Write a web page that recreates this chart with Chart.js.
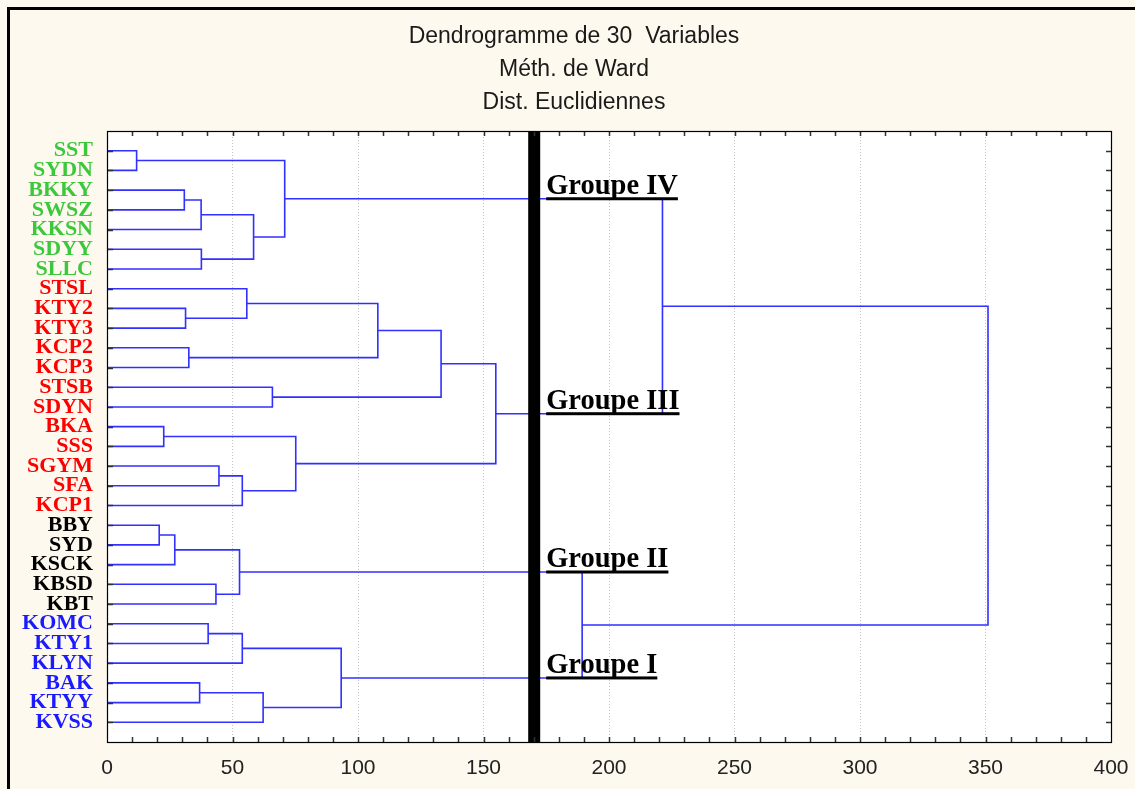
<!DOCTYPE html>
<html>
<head>
<meta charset="utf-8">
<title>Dendrogramme de 30 Variables</title>
<script src="https://cdn.jsdelivr.net/npm/chart.js@4.4.1/dist/chart.umd.min.js"></script>
<style>
    html, body { margin: 0; padding: 0; background: #fef9ee; }
    canvas { display: block; }
</style>
</head>
<body>
<canvas id="grafico" width="1135" height="789"></canvas>
<script>
// feuilles, dans l'ordre du dendrogramme (haut -> bas)
const feuilles = ["SST", "SYDN", "BKKY", "SWSZ", "KKSN", "SDYY", "SLLC",
    "STSL", "KTY2", "KTY3", "KCP2", "KCP3", "STSB", "SDYN", "BKA", "SSS", "SGYM", "SFA", "KCP1",
    "BBY", "SYD", "KSCK", "KBSD", "KBT",
    "KOMC", "KTY1", "KLYN", "BAK", "KTYY", "KVSS"]
const groupeFeuille = ["IV", "IV", "IV", "IV", "IV", "IV", "IV",
    "III", "III", "III", "III", "III", "III", "III", "III", "III", "III", "III", "III",
    "II", "II", "II", "II", "II",
    "I", "I", "I", "I", "I", "I"]

// fusions (ids 0..29 = feuilles, 30.. = fusions dans cet ordre)
const fusionG = [0, 2, 31, 5, 32, 30, 8, 7, 10, 37, 12, 39, 14, 16, 43, 42, 41, 35, 19, 48, 22, 49, 24, 52, 27, 54, 53, 51, 47]
const fusionD = [1, 3, 4, 6, 33, 34, 9, 36, 11, 38, 13, 40, 15, 17, 18, 44, 45, 46, 20, 21, 23, 50, 25, 26, 28, 29, 55, 56, 57]
const fusionH = [11.8, 30.8, 37.5, 37.6, 58.4, 70.8, 31.3, 55.7, 32.6, 107.9, 65.9, 133.1, 22.6, 44.6, 53.9, 75.2, 154.9, 221.3,
    20.8, 27.0, 43.4, 52.8, 40.3, 53.9, 36.9, 62.2, 93.3, 189.3, 351.0]

// coupure et groupes
const coupure = 170.2
const groupes = ["Groupe IV", "Groupe III", "Groupe II", "Groupe I"]
const groupeNoeud = [35, 46, 51, 56]

const titres = ["Dendrogramme de 30  Variables", "Méth. de Ward", "Dist. Euclidiennes"]
const xTicks = [0, 50, 100, 150, 200, 250, 300, 350, 400]

// couleurs
const couleurGroupe = { "IV": "#3cc83c", "III": "#ff0000", "II": "#000000", "I": "#1a1aff" }
const bleu = "#3030ff"

// positions des noeuds
const n = feuilles.length
let posY = []
let haut = []
for (let i = 0; i < n; i++) {
    posY.push(i + 1)
    haut.push(0)
}
let liens = []
for (let k = 0; k < fusionH.length; k++) {
    const g = fusionG[k], d = fusionD[k]
    posY.push((posY[g] + posY[d]) / 2)
    haut.push(fusionH[k])
    liens.push({
        type: "scatter",
        data: [
            { x: haut[g], y: posY[g] },
            { x: fusionH[k], y: posY[g] },
            { x: fusionH[k], y: posY[d] },
            { x: haut[d], y: posY[d] }
        ],
        showLine: true,
        borderColor: bleu,
        borderWidth: 1.6,
        pointRadius: 0,
        fill: false,
        order: 2
    })
}

// barre de coupure
liens.push({
    type: "scatter",
    data: [{ x: coupure, y: 0 }, { x: coupure, y: n + 1 }],
    showLine: true,
    borderColor: "#000",
    borderWidth: 12,
    borderCapStyle: "butt",
    pointRadius: 0,
    order: 0
})

// fond, cadre et etiquettes des groupes
const decor = {
    id: "decor",
    beforeDraw(chart) {
        const c = chart.ctx
        const a = chart.chartArea
        c.save()
        c.fillStyle = "#fef9ee"
        c.fillRect(0, 0, chart.width, chart.height)
        c.fillStyle = "#ffffff"
        c.fillRect(a.left, a.top, a.right - a.left, a.bottom - a.top)
        c.strokeStyle = "#000"
        c.lineWidth = 3
        c.beginPath()
        c.moveTo(8.5, chart.height + 5)
        c.lineTo(8.5, 8.5)
        c.lineTo(chart.width + 5, 8.5)
        c.stroke()
        c.restore()
    },
    afterDatasetsDraw(chart) {
        const c = chart.ctx
        const a = chart.chartArea
        const xs = chart.scales.x
        const ys = chart.scales.y
        c.save()
        // ticks internes
        c.strokeStyle = "#333"
        c.lineWidth = 1.5
        c.beginPath()
        for (let v = 10; v < 400; v += 10) {
            const px = Math.round(xs.getPixelForValue(v)) + 0.5
            c.moveTo(px, a.top); c.lineTo(px, a.top + 5)
            c.moveTo(px, a.bottom); c.lineTo(px, a.bottom - 5)
        }
        for (let i = 0; i < n; i++) {
            const py = Math.round(ys.getPixelForValue(posY[i])) + 0.5
            c.moveTo(a.left, py); c.lineTo(a.left + 6, py)
            c.moveTo(a.right, py); c.lineTo(a.right - 5, py)
        }
        c.stroke()
        c.strokeStyle = "#000"
        c.lineWidth = 1.2
        c.strokeRect(Math.round(a.left) + 0.5, Math.round(a.top) + 0.5, Math.round(a.right - a.left), Math.round(a.bottom - a.top))

        // groupes
        c.font = "bold 28.5px 'Liberation Serif', 'Times New Roman', serif"
        c.textBaseline = "alphabetic"
        c.textAlign = "left"
        c.fillStyle = "#000"
        groupes.forEach((nom, k) => {
            const y = ys.getPixelForValue(posY[groupeNoeud[k]])
            const x = xs.getPixelForValue(coupure) + 12
            const w = c.measureText(nom).width
            c.fillText(nom, x, y - 5)
            c.fillRect(x, y - 1.5, w, 3)
        })
        c.restore()
    }
}

new Chart(document.getElementById("grafico"), {
    type: "scatter",
    data: { datasets: liens },
    options: {
        responsive: false,
        animation: false,
        layout: { padding: { left: 13, right: 0, top: 0, bottom: 0 } },
        plugins: {
            legend: { display: false },
            tooltip: { enabled: false },
            title: {
                display: true,
                text: titres,
                color: "#1a1a1a",
                font: { family: "'Liberation Sans', Arial, sans-serif", size: 23, weight: "normal", lineHeight: "33px" },
                padding: { top: 20, bottom: 12 }
            }
        },
        scales: {
            x: {
                type: "linear",
                position: "bottom",
                min: 0,
                max: 400,
                afterBuildTicks: (s) => { s.ticks = xTicks.map(v => ({ value: v })) },
                afterFit: (s) => {
                    s.height = 47
                    s.paddingLeft = 0
                    s.paddingRight = 24
                },
                grid: { color: "#c4c4c4", lineWidth: 1, drawTicks: false },
                border: { display: false, dash: [1, 2] },
                ticks: {
                    color: "#222",
                    padding: 14,
                    font: { family: "'Liberation Sans', Arial, sans-serif", size: 21 }
                }
            },
            y: {
                type: "linear",
                position: "left",
                min: 0,
                max: n + 1,
                reverse: true,
                afterBuildTicks: (s) => { s.ticks = feuilles.map((f, i) => ({ value: i + 1 })) },
                afterFit: (s) => { s.width = 94 },
                grid: { display: false, drawTicks: false },
                border: { display: false },
                ticks: {
                    padding: 14,
                    autoSkip: false,
                    callback: (v) => feuilles[v - 1],
                    color: (ctx) => couleurGroupe[groupeFeuille[ctx.tick.value - 1]],
                    font: { family: "'Liberation Serif', 'Times New Roman', serif", size: 22, weight: "bold" }
                }
            }
        }
    },
    plugins: [decor]
})
</script>
</body>
</html>
